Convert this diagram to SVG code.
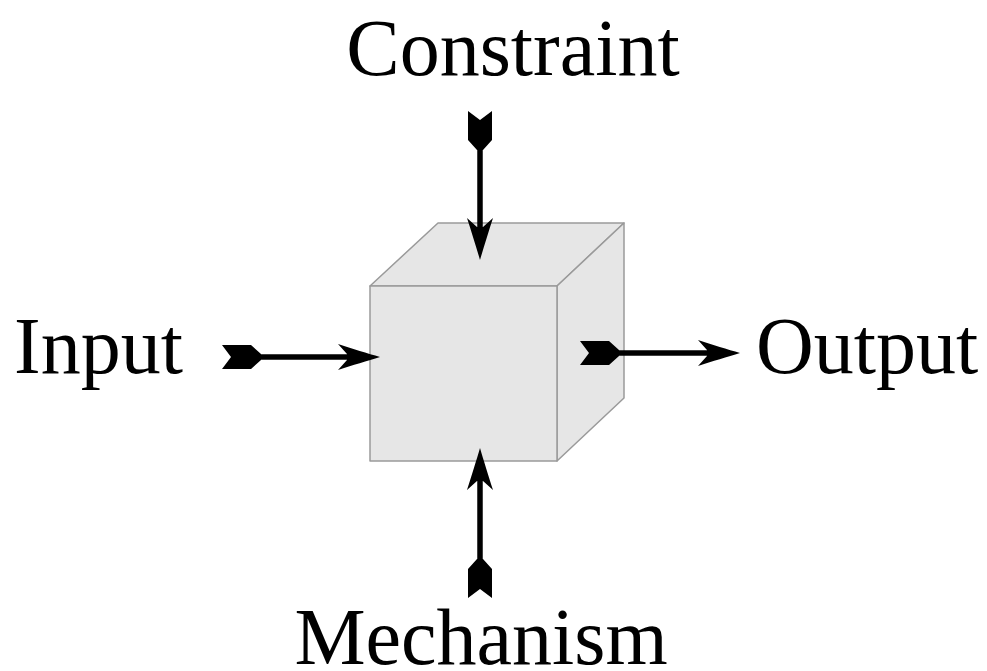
<svg xmlns="http://www.w3.org/2000/svg" xmlns:xlink="http://www.w3.org/1999/xlink" width="987" height="671" viewBox="0 0 987 671">
<style>
.face{fill:#e6e6e6;stroke:#9a9a9a;stroke-width:1.5;stroke-linejoin:round}
.shaft{stroke:#000;stroke-width:5.5;fill:none}
.lbl{font-family:"Liberation Serif","Times New Roman",serif;font-size:80px;fill:#000}
</style>
<defs>
<path id="head" d="M0,0 C-12,-3.5 -28,-8.5 -42,-13 L-33,-3 L-33,3 L-42,13 C-28,8.5 -12,3.5 0,0 Z" fill="#000"/>
<path id="tail" d="M0,-12 L29,-12 L39,-3 L39,3 L29,12 L0,12 L9,0 Z" fill="#000"/>
</defs>
<rect width="987" height="671" fill="#fff"/>
<g id="cube">
<polygon class="face" points="370,286 438,223 624,223 557,286"/>
<polygon class="face" points="557,286 624,223 624,398 557,461"/>
<rect class="face" x="370" y="286" width="187" height="175"/>
</g>
<g id="connectors">
<g id="constraint-arrow">
<line class="shaft" x1="480" y1="140" x2="480" y2="230"/>
<use xlink:href="#tail" transform="translate(480,111) rotate(90)"/>
<use xlink:href="#head" transform="translate(480,260) rotate(90)"/>
</g>
<g id="input-arrow">
<line class="shaft" x1="250" y1="357" x2="350" y2="357"/>
<use xlink:href="#tail" transform="translate(222,357)"/>
<use xlink:href="#head" transform="translate(380,357)"/>
</g>
<g id="output-arrow">
<line class="shaft" x1="608" y1="353" x2="710" y2="353"/>
<use xlink:href="#tail" transform="translate(580,353)"/>
<use xlink:href="#head" transform="translate(740,353)"/>
</g>
<g id="mechanism-arrow">
<line class="shaft" x1="480" y1="570" x2="480" y2="478"/>
<use xlink:href="#tail" transform="translate(480,598) rotate(-90)"/>
<use xlink:href="#head" transform="translate(480,448) rotate(-90)"/>
</g>
</g>
<g id="constraint"><text class="lbl" x="513" y="75" text-anchor="middle">Constraint</text></g>
<g id="input"><text class="lbl" x="14" y="373">Input</text></g>
<g id="output"><text class="lbl" x="756" y="373">Output</text></g>
<g id="mechanism"><text class="lbl" x="481" y="664" text-anchor="middle">Mechanism</text></g>
</svg>
